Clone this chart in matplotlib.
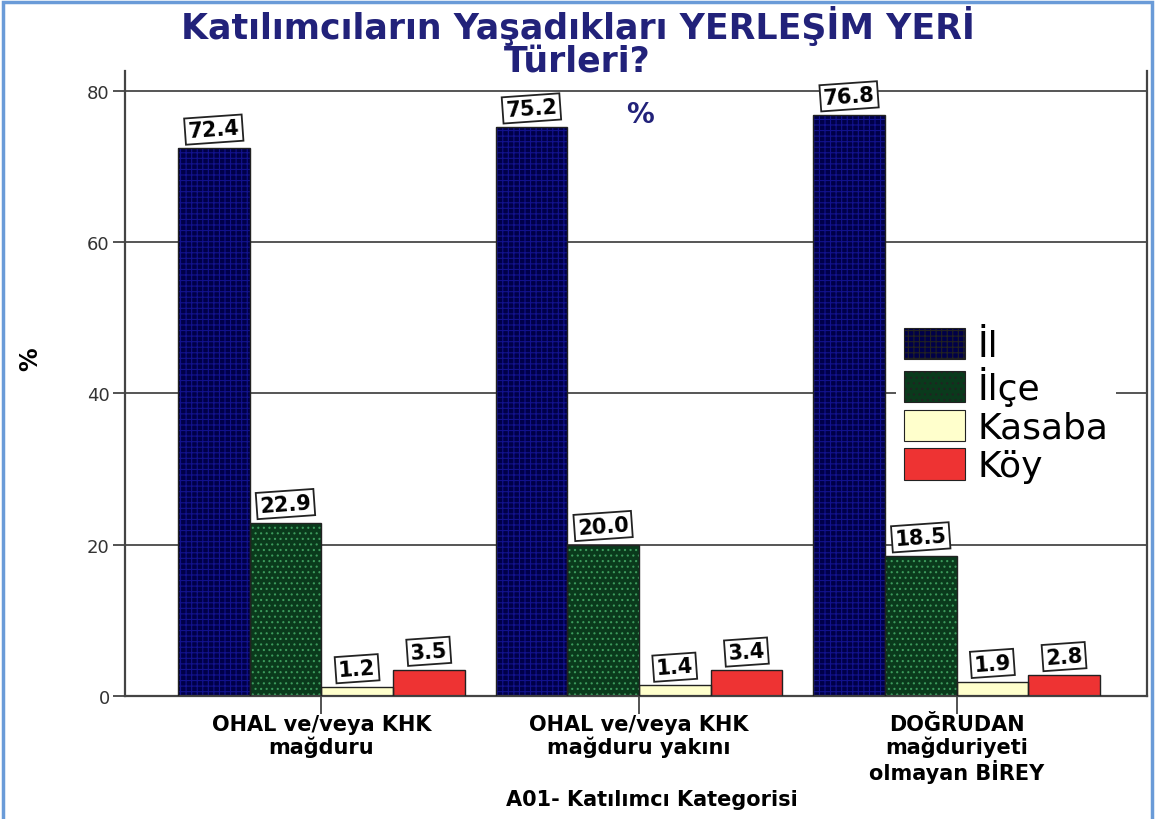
import numpy as np
import matplotlib
matplotlib.use('Agg')
import matplotlib.pyplot as plt
from matplotlib.patches import Patch, Rectangle

categories = ['OHAL ve/veya KHK\nmağduru', 'OHAL ve/veya KHK\nmağduru yakını',
              'DOĞRUDAN\nmağduriyeti\nolmayan BİREY']
series = ['İl', 'İlçe', 'Kasaba', 'Köy']
il = [72.4, 75.2, 76.8]
ilce = [22.9, 20.0, 18.5]
kasaba = [1.2, 1.4, 1.9]
koy = [3.5, 3.4, 2.8]
values = [il, ilce, kasaba, koy]

faces = ['#000048', '#0a3a1c', '#ffffcc', '#ee3333']
hatch_cols = ['#12128e', '#3c9a5c', '#ffffcc', '#ee3333']
hatches = ['+++', '...', None, None]
navy = '#22227a'

plt.rcParams['font.family'] = ['DejaVu Sans']
plt.rcParams['hatch.linewidth'] = 0.8

fig = plt.figure(figsize=(11.55, 8.2), dpi=100)
ax = fig.add_axes([0.1082, 0.15, 0.885, 0.762])

x = np.arange(len(categories))
w = 0.2256
offsets = (np.arange(4) - 1.5) * w

handles = []
for i in range(4):
    xs = x + offsets[i]
    ax.bar(xs, values[i], w, color=faces[i], edgecolor=hatch_cols[i],
           hatch=hatches[i], linewidth=0, zorder=2)
    ax.bar(xs, values[i], w, fill=False, edgecolor='#222222', linewidth=1.0, zorder=3)
    for xi, v in zip(xs, values[i]):
        ax.annotate(f'{v:.1f}', (xi, v), xytext=(0, 5), textcoords='offset points',
                    ha='center', va='bottom', fontsize=15, fontweight='bold',
                    rotation=4, zorder=5,
                    bbox=dict(boxstyle='square,pad=0.15', fc='white', ec='#222222', lw=1.3))
    handles.append(Patch(facecolor=faces[i], edgecolor=hatch_cols[i], hatch=hatches[i],
                         linewidth=0))

ax.set_xlim(-0.618, 2.6)
ax.set_ylim(0, 82.6)
ax.set_yticks([0, 20, 40, 60, 80])
ax.yaxis.grid(True, color='#555555', linewidth=1.4, zorder=0)
ax.set_axisbelow(True)
ax.spines['top'].set_visible(False)
for s in ['left', 'right', 'bottom']:
    ax.spines[s].set_color('#444444')
    ax.spines[s].set_linewidth(1.6)
ax.tick_params(axis='y', length=9, width=1.3, color='#444444', labelsize=13,
               labelcolor='#333333', pad=2)
ax.set_xticks(x)
ax.set_xticklabels(categories, fontsize=15, fontweight='bold', linespacing=1.1)
ax.tick_params(axis='x', length=13, width=1.3, color='#444444', pad=0)

ax.set_xlabel('A01- Katılımcı Kategorisi', fontsize=15, fontweight='bold')
ax.xaxis.set_label_coords(0.515, -0.165)
ax.xaxis.label.set_va('center')
ax.set_ylabel('%', fontsize=17, fontweight='bold')
ax.yaxis.set_label_coords(-0.093, 0.54)
ax.yaxis.label.set_va('center')
ax.text(0.504, 0.931, '%', transform=ax.transAxes, ha='center', va='center',
        fontsize=20, fontweight='bold', color=navy)

leg = ax.legend(handles, series, loc='upper left', bbox_to_anchor=(0.737, 0.63),
                fontsize=26, frameon=True, framealpha=1, edgecolor='white',
                handlelength=1.7, handleheight=0.95, handletextpad=0.35,
                labelspacing=0.1, borderpad=0.2)
leg.get_frame().set_linewidth(0)
for h in leg.legend_handles:
    h.set_edgecolor('#222222')
    h.set_linewidth(0.8)

fig.text(0.5, 0.993, 'Katılımcıların Yaşadıkları YERLEŞİM YERİ\nTürleri?',
         ha='center', va='top', fontsize=25, fontweight='bold', color=navy,
         linespacing=0.95)

fig.patches.append(Rectangle((0.003, -0.01), 0.994, 1.006, transform=fig.transFigure,
                             fill=False, edgecolor='#6a9bd8', linewidth=2.5))

fig.savefig('out.png', dpi=100)
